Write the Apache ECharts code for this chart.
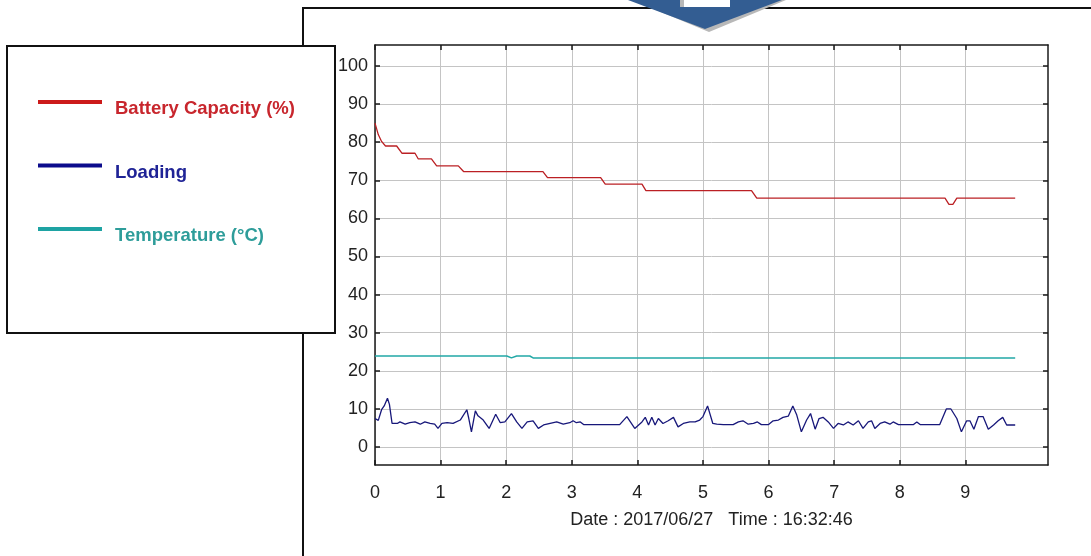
<!DOCTYPE html>
<html>
<head>
<meta charset="utf-8">
<script src="https://cdn.jsdelivr.net/npm/echarts@6/dist/echarts.min.js"></script>
<style>
html,body{margin:0;padding:0;background:#fff;}
#chart{width:1091px;height:556px;}
</style>
</head>
<body>
<div id="chart"></div>
<script>
// ---- data (x = time units, y = value) ----
const xTickValues = [0, 1, 2, 3, 4, 5, 6, 7, 8, 9];
const yTickValues = [0, 10, 20, 30, 40, 50, 60, 70, 80, 90, 100];
const axisName = 'Date : 2017/06/27   Time : 16:32:46';

const seriesNames = ['Battery Capacity (%)', 'Loading', 'Temperature (°C)'];

const batteryT = [0, 0.05, 0.1, 0.16, 0.33, 0.41, 0.61, 0.66, 0.86, 0.94, 1.27, 1.35, 2.56, 2.63, 3.44, 3.51, 4.07, 4.13, 5.74, 5.82, 8.69, 8.75, 8.81, 8.87, 9.76];
const batteryV = [85, 82.0, 80.2, 79.0, 79.0, 77.1, 77.1, 75.6, 75.6, 73.8, 73.8, 72.3, 72.3, 70.7, 70.7, 69.0, 69.0, 67.3, 67.3, 65.3, 65.3, 63.7, 63.7, 65.3, 65.3];

const tempT = [0, 1.90, 1.93, 2.01, 2.08, 2.16, 2.36, 2.41, 9.76];
const tempV = [23.9, 23.9, 23.5, 23.9, 23.4, 23.9, 23.9, 23.4, 23.4];

const loadT = [0.00, 0.05, 0.10, 0.14, 0.19, 0.22, 0.26, 0.34, 0.38, 0.46, 0.53, 0.61, 0.69, 0.76, 0.84, 0.91, 0.96, 1.02, 1.10, 1.19,
  1.30, 1.40, 1.43, 1.47, 1.53, 1.57, 1.65, 1.74, 1.84, 1.91, 1.98, 2.01, 2.08, 2.16, 2.24, 2.32, 2.41, 2.49, 2.57, 2.67,
  2.77, 2.87, 2.97, 3.02, 3.07, 3.13, 3.18, 3.73, 3.84, 3.96, 4.07, 4.12, 4.17, 4.22, 4.27, 4.32, 4.39, 4.47, 4.55, 4.62,
  4.70, 4.80, 4.88, 4.95, 5.00, 5.07, 5.15, 5.21, 5.31, 5.46, 5.54, 5.61, 5.69, 5.77, 5.83, 5.89, 6.00, 6.07, 6.15, 6.22,
  6.30, 6.37, 6.43, 6.50, 6.58, 6.64, 6.71, 6.77, 6.83, 6.91, 6.99, 7.06, 7.14, 7.21, 7.29, 7.37, 7.44, 7.52, 7.57, 7.62,
  7.70, 7.77, 7.85, 7.90, 7.98, 8.21, 8.26, 8.31, 8.61, 8.71, 8.78, 8.87, 8.94, 9.02, 9.07, 9.13, 9.20, 9.27, 9.35, 9.43,
  9.50, 9.57, 9.63, 9.76];
const loadV = [7.5, 7.0, 9.8, 10.8, 12.8, 11.2, 6.2, 6.2, 6.6, 6.0, 6.4, 6.6, 6.0, 6.6, 6.2, 6.0, 4.9, 6.2, 6.4, 6.2,
  7.1, 9.8, 7.5, 4.0, 9.5, 8.2, 7.1, 4.9, 8.6, 6.4, 6.6, 6.2, 8.8, 6.6, 4.9, 6.6, 6.9, 4.9, 5.8, 6.2,
  6.6, 6.0, 6.4, 6.9, 6.4, 6.6, 5.9, 5.9, 8.0, 4.9, 6.6, 7.8, 5.8, 7.8, 5.8, 7.5, 6.2, 6.9, 7.8, 5.3,
  6.2, 6.6, 6.6, 7.1, 8.0, 10.8, 6.2, 6.0, 5.9, 5.9, 6.6, 6.9, 6.0, 6.2, 6.6, 5.9, 5.9, 6.9, 7.1, 7.8,
  8.1, 10.8, 8.4, 4.0, 7.1, 8.8, 4.7, 7.5, 7.8, 6.6, 4.9, 6.2, 5.8, 6.6, 5.8, 6.9, 4.9, 6.6, 6.9, 4.9,
  6.2, 6.6, 6.0, 6.6, 5.9, 5.9, 6.6, 5.9, 5.9, 10.0, 10.0, 7.5, 4.0, 6.9, 6.9, 4.7, 8.0, 8.0, 4.7, 5.8,
  6.9, 7.8, 5.8, 5.8];

// ---- build ----
const zip = (t, v) => t.map((x, i) => [x, v[i]]);
const FONT = "'Liberation Sans', Arial, sans-serif";
const lineColors = ['#bb2024', '#17177a', '#22a8a6'];
const legendLineColors = ['#cc1a1a', '#0c0c8c', '#1ea3a3'];
const legendTextColors = ['#c8262d', '#1f2396', '#2e9d9a'];

const X_MAX = 10.26, Y_MIN = -4.7, Y_MAX = 105.5;

const chart = echarts.init(document.getElementById('chart'), null, {renderer: 'canvas'});

const baseX = {
  type: 'value', min: 0, max: X_MAX,
  axisLine: {show: true, onZero: false, lineStyle: {color: '#1a1a1a', width: 1.5}},
  axisTick: {show: true, inside: true, length: 5, customValues: xTickValues, lineStyle: {color: '#1a1a1a', width: 1.5}},
  splitLine: {show: false}
};
const baseY = {
  type: 'value', min: Y_MIN, max: Y_MAX,
  axisLine: {show: true, onZero: false, lineStyle: {color: '#1a1a1a', width: 1.5}},
  axisTick: {show: true, inside: true, length: 5, customValues: yTickValues, lineStyle: {color: '#1a1a1a', width: 1.5}},
  splitLine: {show: false}
};

const option = {
  animation: false,
  backgroundColor: '#ffffff',
  textStyle: {fontFamily: FONT},
  grid: {left: 375, right: 43, top: 45, bottom: 91, containLabel: false},
  xAxis: [
    Object.assign({}, baseX, {
      position: 'bottom',
      axisLabel: {show: true, customValues: xTickValues, margin: 19, fontSize: 18, color: '#222', fontFamily: FONT},
      splitLine: {show: true, lineStyle: {color: '#c4c4c4', width: 1}},
      name: axisName, nameLocation: 'middle', nameGap: 46,
      nameTextStyle: {fontSize: 18, color: '#222', fontFamily: FONT}
    }),
    Object.assign({}, baseX, {position: 'top', axisLabel: {show: false}})
  ],
  yAxis: [
    Object.assign({}, baseY, {
      position: 'left',
      axisLabel: {show: true, customValues: yTickValues, margin: 7, fontSize: 18, color: '#222', fontFamily: FONT},
      splitLine: {show: true, lineStyle: {color: '#c4c4c4', width: 1}}
    }),
    Object.assign({}, baseY, {position: 'right', axisLabel: {show: false}})
  ],
  legend: {
    orient: 'vertical', left: 33, top: 80, itemWidth: 64, itemHeight: 4, itemGap: 29.5,
    icon: 'rect', selectedMode: false, z: 20,
    formatter: '{s| }\n{t|{name}}',
    textStyle: {
      fontSize: 18.5, fontWeight: 'bold', fontFamily: FONT, lineHeight: 20, padding: [0, 0, 0, 8],
      rich: {
        s: {fontSize: 2, lineHeight: 14},
        t: {fontSize: 18.5, fontWeight: 'bold', fontFamily: FONT, lineHeight: 20}
      }
    },
    data: seriesNames.map((n, i) => ({
      name: n, icon: 'rect',
      itemStyle: {color: legendLineColors[i]},
      textStyle: {color: legendTextColors[i]}
    }))
  },
  graphic: [
    {type: 'polyline', z: 1, shape: {points: [[303, 556], [303, 8], [1091, 8]]}, style: {stroke: '#111', lineWidth: 2, fill: null}},
    {type: 'rect', z: 2, shape: {x: 7, y: 46, width: 328, height: 287}, style: {fill: '#fff', stroke: '#111', lineWidth: 2}},
    {type: 'polygon', z: 3, shape: {points: [[632, 0], [684, 0], [684, 7], [734, 7], [734, 0], [786, 0], [709, 32]]}, style: {fill: '#b8b8b8'}},
    {type: 'polygon', z: 4, shape: {points: [[628, 0], [680, 0], [680, 7], [730, 7], [730, 0], [782, 0], [705, 29]]}, style: {fill: '#335d92'}}
  ],
  series: [
    {name: seriesNames[0], type: 'line', data: zip(batteryT, batteryV), showSymbol: false, symbol: 'none',
      lineStyle: {color: lineColors[0], width: 1.3}, itemStyle: {color: lineColors[0]}},
    {name: seriesNames[1], type: 'line', data: zip(loadT, loadV), showSymbol: false, symbol: 'none',
      lineStyle: {color: lineColors[1], width: 1.3}, itemStyle: {color: lineColors[1]}},
    {name: seriesNames[2], type: 'line', data: zip(tempT, tempV), showSymbol: false, symbol: 'none',
      lineStyle: {color: lineColors[2], width: 1.5}, itemStyle: {color: lineColors[2]}}
  ]
};
chart.setOption(option);
</script>
</body>
</html>
